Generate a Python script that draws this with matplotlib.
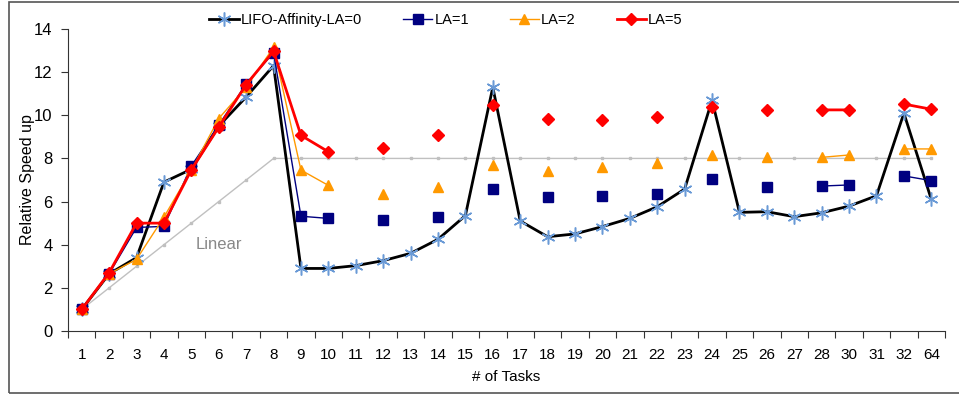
import numpy as np
import matplotlib
matplotlib.use("Agg")
from matplotlib import pyplot
from matplotlib.patches import Rectangle

pyplot.rcParams['font.family'] = ['Liberation Sans', 'DejaVu Sans']

nan = np.nan

tasks = ["1", "2", "3", "4", "5", "6", "7", "8", "9", "10", "11", "12", "13",
         "14", "15", "16", "17", "18", "19", "20", "21", "22", "23", "24",
         "25", "26", "27", "28", "30", "31", "32", "64"]

linear = [1, 2, 3, 4, 5, 6, 7, 8, 8, 8, 8, 8, 8, 8, 8, 8, 8, 8, 8, 8, 8, 8,
          8, 8, 8, 8, 8, 8, 8, 8, 8, 8]

la0 = [1.0, 2.65, 3.4, 6.9, 7.5, 9.5, 10.85, 12.3, 2.9, 2.9, 3.03, 3.26,
       3.6, 4.25, 5.35, 11.3, 5.1, 4.37, 4.5, 4.84, 5.22, 5.76, 6.58, 10.7,
       5.5, 5.53, 5.3, 5.48, 5.79, 6.27, 10.1, 6.1]

la1 = [1.0, 2.65, 4.8, 4.85, 7.65, 9.55, 11.45, 12.9, 5.32, 5.22, nan, 5.15,
       nan, 5.3, nan, 6.58, nan, 6.2, nan, 6.27, nan, 6.37, nan, 7.05,
       nan, 6.66, nan, 6.72, 6.77, nan, 7.19, 6.97]

la2 = [1.0, 2.65, 3.32, 5.28, 7.45, 9.85, 11.3, 13.15, 7.46, 6.75, nan, 6.34,
       nan, 6.69, nan, 7.7, nan, 7.43, nan, 7.59, nan, 7.8, nan, 8.16,
       nan, 8.05, nan, 8.05, 8.16, nan, 8.44, 8.44]

la5 = [1.0, 2.7, 5.0, 5.0, 7.47, 9.45, 11.42, 12.97, 9.07, 8.31, nan, 8.5,
       nan, 9.09, nan, 10.48, nan, 9.82, nan, 9.78, nan, 9.9, nan, 10.4,
       nan, 10.25, nan, 10.25, 10.25, nan, 10.52, 10.28]


fig = pyplot.figure(figsize=(9.59, 3.97), dpi=100)
axes = fig.add_axes([68/959, 1 - 331/397, (945 - 68)/959, (331 - 29)/397])

# chart area border
fig.patches.append(Rectangle((9/959, 1 - 393/397), 1.2, 391/397,
                             transform=fig.transFigure, fill=False,
                             ec='#555555', lw=1.2))

x = np.arange(len(tasks))

axes.plot(x, linear, color='#c0c0c0', lw=1, marker='s', ms=2,
          mfc='#c0c0c0', mec='#c0c0c0', zorder=1)
axes.plot(x, la0, color='black', lw=2, marker=(6, 2, 0), ms=10,
          mec='#6a9ad6', mew=1.1, label="LIFO-Affinity-LA=0", zorder=2)
axes.plot(x, la1, color='#000080', lw=1, marker='s', ms=7,
          mfc='#000080', mec='#000080', label="LA=1", zorder=3)
axes.plot(x, la2, color='#ff9900', lw=1, marker='^', ms=7,
          mfc='#ff9900', mec='#ff9900', label="LA=2", zorder=4)
axes.plot(x, la5, color='#ff0000', lw=2, marker='D', ms=6,
          mfc='#ff0000', mec='#ff0000', label="LA=5", zorder=5)

axes.text(5, 4.0, "Linear", color='#888888', fontsize=12,
          ha='center', va='center')

axes.set_xlim(-0.5, len(tasks) - 0.5)
axes.set_ylim(0, 14)
axes.set_yticks(np.arange(0, 15, 2))
axes.set_xticks(np.arange(len(tasks) + 1) - 0.5)
axes.set_xticklabels([])
axes.set_xticks(x, minor=True)
axes.set_xticklabels(tasks, minor=True)
axes.tick_params(axis='x', which='major', direction='out', length=5,
                 color='#333333')
axes.tick_params(axis='x', which='minor', length=0, pad=12, labelsize=11)
axes.tick_params(axis='y', direction='out', length=5, color='#333333',
                 labelsize=12, pad=6)

for side in ('top', 'right'):
    axes.spines[side].set_visible(False)
for side in ('left', 'bottom'):
    axes.spines[side].set_color('#333333')

axes.set_ylabel("Relative Speed up", fontsize=11.5)
axes.yaxis.set_label_coords((35 - 68) / 877, 0.5)
axes.set_xlabel("# of Tasks", fontsize=11, labelpad=6)

fig.legend(loc='center', bbox_to_anchor=(446/959, 1 - 20/397), ncol=4,
           frameon=False, fontsize=10.5, handlelength=2, handletextpad=0.15,
           columnspacing=2.8)

fig.savefig("out.png", dpi=100)
